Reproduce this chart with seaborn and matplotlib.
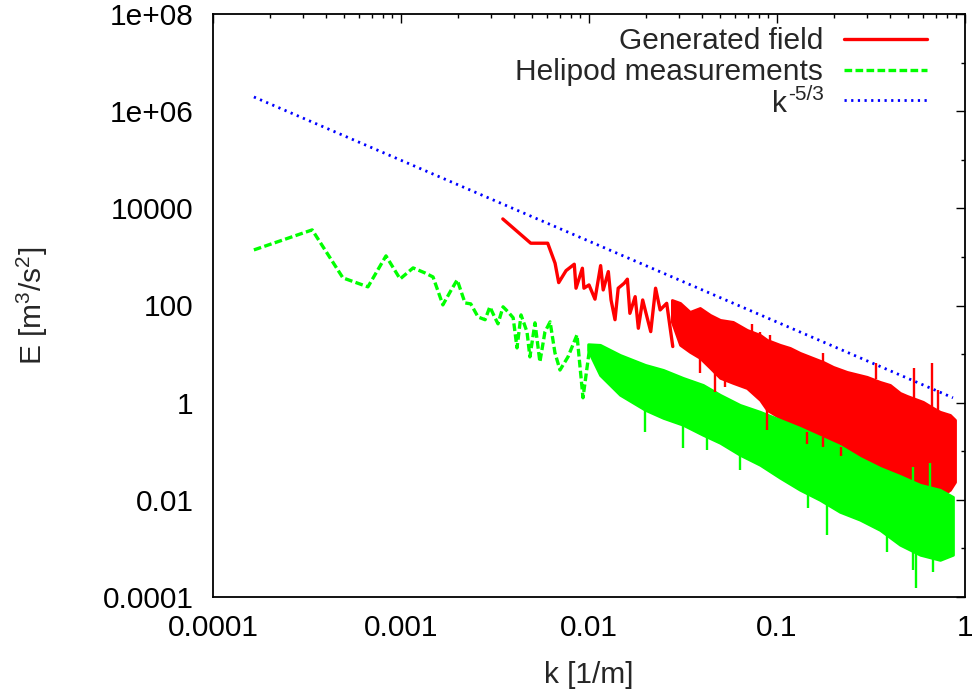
import numpy as np
import pandas as pd
import matplotlib
matplotlib.use("Agg")
import matplotlib.pyplot as plt
from matplotlib.lines import Line2D
import seaborn as sns

# --- data (k in 1/m, E in m^3/s^2) ---
# generated field: sparse low-k part
red_k = [3.48e-3, 4.9e-3, 6.03e-3, 6.6e-3, 6.9e-3, 7.55e-3, 8.35e-3, 8.53e-3, 9.22e-3, 9.4e-3,
         0.0100, 0.01076, 0.01153, 0.0119, 0.01267, 0.0131, 0.01375, 0.0143, 0.0154, 0.0160,
         0.0165, 0.0176, 0.0183, 0.0193, 0.0200, 0.0213, 0.0226, 0.0239, 0.0259, 0.0279]
red_E = [6050, 1915, 1915, 741, 296, 522, 708, 227, 585, 227,
         265, 135, 662, 209, 499, 130, 51, 227, 288, 348,
         69, 152, 34, 130, 75, 29, 227, 81, 111, 14.3]
# generated field: dense high-k band (upper / lower edge)
red_band_k = [0.0276, 0.0305, 0.0344, 0.0389, 0.0441, 0.0498, 0.0583, 0.0692, 0.0813, 0.0885,
              0.1038, 0.1172, 0.1324, 0.155, 0.176, 0.199, 0.2355, 0.301, 0.353, 0.399,
              0.451, 0.491, 0.598, 0.676, 0.736, 0.832, 0.885]
red_band_hi = [130, 113, 74, 89, 64, 50.6, 46, 31.5, 24.8, 19.6,
               15.5, 13.4, 10.6, 8.35, 6.9, 5.45, 4.3, 3.4, 2.68, 2.32,
               1.59, 1.38, 1.04, 0.78, 0.65, 0.56, 0.443]
red_band_lo = [46, 15.5, 11.1, 8.35, 5.2, 3.24, 2.55, 2.0, 1.14, 0.71,
               0.486, 0.35, 0.275, 0.207, 0.189, 0.136, 0.097, 0.0605, 0.0377, 0.0343,
               0.0284, 0.0234, 0.0185, 0.0146, 0.0115, 0.0161, 0.0234]
# narrow peaks above the band and dips below it
red_spike_k = [0.0736, 0.0813, 0.0918, 0.176, 0.337, 0.536, 0.667, 0.718]
red_spike_top = [42, 28.6, 24.8, 10.6, 6.6, 5.2, 6.6, 1.83]
red_spike_base = [27, 20, 18, 6.0, 3.0, 1.2, 0.8, 0.7]
red_dip_k = [0.0389, 0.0468, 0.0528, 0.0885, 0.1446, 0.176, 0.22]
red_dip_top = [8.0, 4.0, 3.0, 0.71, 0.25, 0.2, 0.12]
red_dip_bottom = [4.1, 1.67, 2.1, 0.275, 0.14, 0.12, 0.08]

# helipod measurements: sparse low-k part
green_k = [1.65e-4, 3.37e-4, 4.91e-4, 6.67e-4, 8.32e-4, 9.89e-4, 1.16e-3, 1.34e-3, 1.48e-3, 1.67e-3,
           1.85e-3, 1.99e-3, 2.19e-3, 2.35e-3, 2.57e-3, 2.80e-3, 2.97e-3, 3.16e-3, 3.28e-3, 3.49e-3,
           3.71e-3, 3.95e-3, 4.14e-3, 4.35e-3, 4.68e-3, 4.85e-3, 5.16e-3, 5.48e-3, 5.83e-3, 6.21e-3,
           6.59e-3, 7.01e-3, 7.73e-3, 8.63e-3, 9.29e-3, 0.0101]
green_E = [1393, 3600, 370, 242, 1050, 352, 594, 469, 387, 103,
           209, 336, 113, 108, 58, 51, 94, 56, 42, 94,
           74, 56, 13.4, 64, 28.6, 8.75, 44, 6.9, 28.6, 46,
           10.6, 4.7, 8.75, 24.8, 1.26, 14.1]
# helipod measurements: dense high-k band
green_band_k = [0.00989, 0.01145, 0.01462, 0.0199, 0.0248, 0.0316, 0.0404, 0.0498, 0.0635, 0.0812,
                0.1038, 0.1324, 0.169, 0.216, 0.276, 0.353, 0.451, 0.577, 0.736, 0.863]
green_band_hi = [16, 15.5, 9.6, 6.0, 4.73, 3.24, 2.32, 1.45, 0.90, 0.65,
                 0.443, 0.303, 0.198, 0.129, 0.073, 0.0455, 0.031, 0.0204, 0.0161, 0.0115]
green_band_lo = [12, 3.7, 1.45, 0.71, 0.486, 0.35, 0.217, 0.149, 0.0843, 0.0525,
                 0.0284, 0.0161, 0.01, 0.00566, 0.0039, 0.0024, 0.00119, 0.00074, 0.00058, 0.00074]
green_spike_k = [0.528, 0.652]
green_spike_top = [0.0478, 0.0585]
green_spike_base = [0.015, 0.012]
green_dip_k = [0.0199, 0.0316, 0.0425, 0.0635, 0.146, 0.185, 0.385, 0.528, 0.55, 0.676]
green_dip_top = [0.8, 0.4, 0.3, 0.1, 0.015, 0.008, 0.003, 0.001, 0.001, 0.0008]
green_dip_bottom = [0.25, 0.117, 0.107, 0.0414, 0.0069, 0.0019, 0.00085, 0.00036, 0.000155, 0.00032]

# k^-5/3 reference line end points
ref_k = [1.65e-4, 0.863]
ref_E = [1.96e6, 1.26]

xtick_vals = [1e-4, 1e-3, 1e-2, 1e-1, 1]
xtick_labels = ["0.0001", "0.001", "0.01", "0.1", "1"]
ytick_vals = [1e-4, 1e-2, 1, 1e2, 1e4, 1e6, 1e8]
ytick_labels = ["0.0001", "0.01", "1", "100", "10000", "1e+06", "1e+08"]

RED, GREEN, BLUE = "#ff0000", "#00ff00", "#0000ff"
W, H = 972, 695

sns.set_theme(style="white")
plt.rcParams["font.family"] = ["Liberation Sans", "DejaVu Sans"]
plt.rcParams["mathtext.default"] = "regular"

fig = plt.figure(figsize=(W / 100, H / 100), dpi=100)
ax = fig.add_axes([213 / W, 98 / H, 752 / W, 583 / H])
ax.set_xscale("log")
ax.set_yscale("log")

red_df = pd.DataFrame({"k": red_k, "E": red_E})
green_df = pd.DataFrame({"k": green_k, "E": green_E})
ref_df = pd.DataFrame({"k": ref_k, "E": ref_E})

# generated field (drawn first, like gnuplot)
sns.lineplot(data=red_df, x="k", y="E", ax=ax, color=RED, lw=2.4,
             estimator=None, sort=False)
ax.fill_between(red_band_k, red_band_lo, red_band_hi, color=RED, lw=2, edgecolor=RED)
ax.vlines(red_spike_k, red_spike_base, red_spike_top, color=RED, lw=1.7)
ax.vlines(red_dip_k, red_dip_bottom, red_dip_top, color=RED, lw=1.7)

# helipod measurements
dash = (0, (2.3, 1.0))
sns.lineplot(data=green_df, x="k", y="E", ax=ax, color=GREEN, lw=2.4,
             linestyle=dash, estimator=None, sort=False)
ax.fill_between(green_band_k, green_band_lo, green_band_hi, color=GREEN, lw=2, edgecolor=GREEN)
ax.vlines(green_spike_k, green_spike_base, green_spike_top, color=GREEN, lw=1.7)
ax.vlines(green_dip_k, green_dip_bottom, green_dip_top, color=GREEN, lw=1.7)

# k^-5/3
dots = (0, (0.8, 1.6))
sns.lineplot(data=ref_df, x="k", y="E", ax=ax, color=BLUE, lw=2.0,
             linestyle=dots, estimator=None, sort=False)

ax.set_xlim(1e-4, 1)
ax.set_ylim(1e-4, 1e8)
ax.set_xticks(xtick_vals, xtick_labels)
ax.set_yticks(ytick_vals, ytick_labels)
ax.set_xticks([m * 10.0 ** e for e in range(-4, 0) for m in range(2, 10)], minor=True)
ax.set_yticks([10.0 ** e for e in range(-3, 8, 2)], minor=True)
ax.yaxis.set_minor_formatter(matplotlib.ticker.NullFormatter())
ax.xaxis.set_minor_formatter(matplotlib.ticker.NullFormatter())
ax.tick_params(which="both", direction="in", top=True, right=True, colors="black",
               width=1.0, labelsize=21.5)
ax.tick_params(which="major", length=6.5)
ax.tick_params(which="minor", length=3)
ax.tick_params(axis="y", pad=14)
ax.tick_params(axis="x", pad=12)
for sp in ax.spines.values():
    sp.set_color("black")
    sp.set_linewidth(1.3)

ax.set_xlabel("k [1/m]", fontsize=21.5, labelpad=14)
ax.set_ylabel("E [m$^3$/s$^2$]", fontsize=21.5, labelpad=38)

# gnuplot-style key: right-aligned text, sample line to its right
def px(x, y):
    return x / W, 1 - y / H

key = [("Generated field", RED, "-", 2.4, 39, 49),
       ("Helipod measurements", GREEN, dash, 2.4, 70, 80)]
for text, col, ls, lw, ly, by in key:
    fig.text(*px(823, by), text, ha="right", va="baseline", fontsize=21.5)
    fig.add_artist(Line2D([844 / W, 927 / W], [1 - ly / H] * 2, color=col, lw=lw, linestyle=ls))
fig.text(*px(787, 112), "k", ha="right", va="baseline", fontsize=21.5)
fig.text(*px(824, 100), "-5/3", ha="right", va="baseline", fontsize=15)
fig.add_artist(Line2D([844 / W, 927 / W], [1 - 100 / H] * 2, color=BLUE, lw=2.0, linestyle=dots))

fig.savefig("out.png", dpi=100)
